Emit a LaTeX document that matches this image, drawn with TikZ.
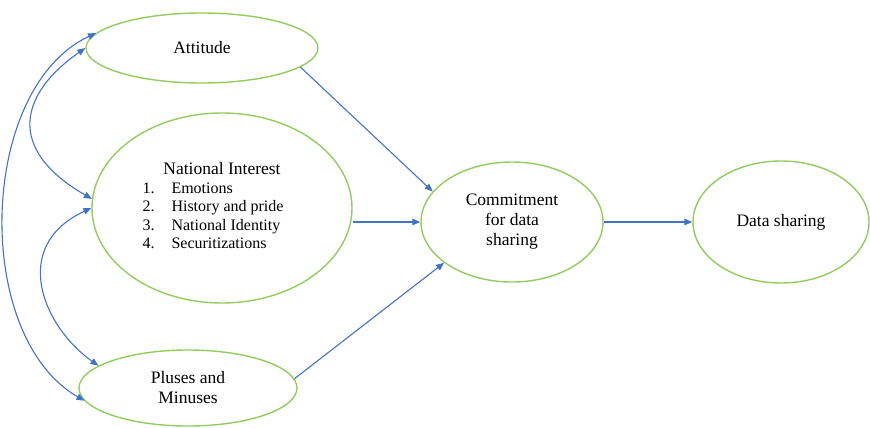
\documentclass[tikz,border=0pt]{standalone}
\usepackage{fontspec}
\setmainfont{Liberation Serif}
\usetikzlibrary{arrows.meta,shapes.geometric}
\definecolor{leaf}{RGB}{146,204,96}
\definecolor{cobalt}{RGB}{68,114,196}
\tikzset{
  oval/.style={ellipse,draw=leaf,line width=1.4pt,inner sep=0pt,align=center,font=\fontsize{17.5}{20}\selectfont},
  arr/.style={-{Triangle[length=8pt,width=6.5pt]},draw=cobalt,line width=1.1pt},
  biarr/.style={arr,{Triangle[length=8pt,width=6.5pt]}-{Triangle[length=8pt,width=6.5pt]}},
}
\begin{document}
\begin{tikzpicture}[x=1pt,y=1pt]
  \useasboundingbox (0,0) rectangle (870,-428);
  \node[oval,minimum width=232pt,minimum height=70pt] (att) at (202,-48) {Attitude};
  \node[oval,minimum width=260pt,minimum height=190pt] (ni) at (222,-208) {National Interest\\[-1pt]
    {\fontsize{16}{18.5}\selectfont\begin{tabular}[t]{@{}l@{\hspace{17pt}}l@{\hspace{18pt}}}
      1. & Emotions\\ 2. & History and pride\\ 3. & National Identity\\ 4. & Securitizations
    \end{tabular}}};
  \node[oval,minimum width=218pt,minimum height=76pt] (pm) at (188,-388) {Pluses and\\Minuses};
  \node[oval,minimum width=182pt,minimum height=120pt] (com) at (512,-222) {Commitment\\for data\\sharing};
  \node[oval,minimum width=176pt,minimum height=122pt] (ds) at (781,-222) {Data sharing};
  \foreach \a/\b in {att.-11/com.159,pm.5/com.211,com.east/ds.west}{\draw[arr] (\a) -- (\b);}
  \draw[arr] (ni.east |- com.west) -- (com.west);
  % correlations on the left
  \draw[biarr] (att.172) to[out=205,in=150,out distance=130pt,in distance=130pt] (pm.187);
  \draw[biarr] (att.west) to[out=215,in=150,out distance=80pt,in distance=100pt] (ni.176);
  \draw[biarr] (ni.west) to[out=205,in=145,out distance=91pt,in distance=67pt] (pm.166);
\end{tikzpicture}
\end{document}
